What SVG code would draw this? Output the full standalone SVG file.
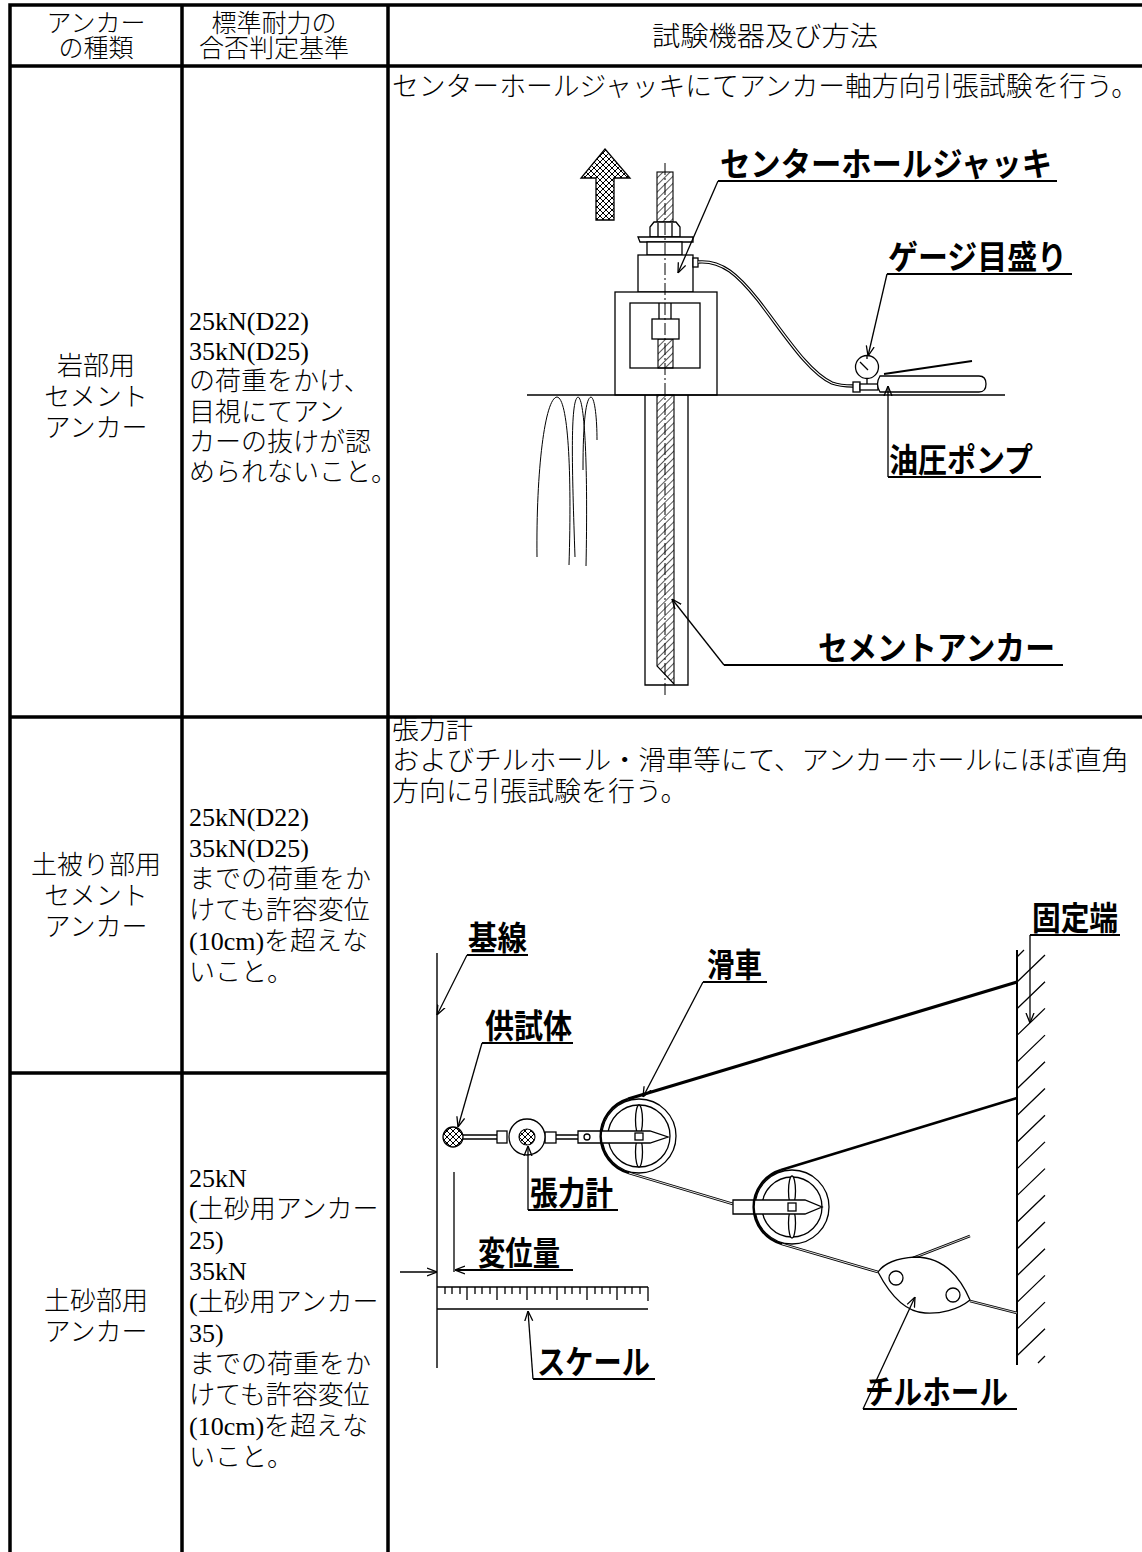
<svg xmlns="http://www.w3.org/2000/svg" width="1142" height="1552" viewBox="0 0 1142 1552">
<style>
.t{font-family:"Liberation Serif","Noto Sans CJK JP",serif;font-size:26px;font-weight:300;fill:#000}
.h{font-size:25px}
.w{font-size:27px}
.c{text-anchor:middle}
.lb{font-family:"Noto Sans CJK JP","Noto Sans",sans-serif;font-weight:bold;font-size:33px;fill:#000}
.ln{fill:none;stroke:#000;stroke-width:1.3}
.ld{fill:none;stroke:#000;stroke-width:1.4}
.ul{fill:none;stroke:#000;stroke-width:1.8}
.sh{fill:#fff;stroke:#000;stroke-width:1.3}
</style>
<defs>
<pattern id="xh" width="6" height="6" patternUnits="userSpaceOnUse"><path d="M0,0 L6,6 M6,0 L0,6" stroke="#000" stroke-width="1"/></pattern>
<pattern id="dh" width="5" height="5" patternUnits="userSpaceOnUse" patternTransform="rotate(45)"><line x1="0" y1="0" x2="0" y2="5" stroke="#000" stroke-width="1.3"/></pattern>
<marker id="v" viewBox="0 0 10 10" refX="10" refY="5" markerWidth="10" markerHeight="10" markerUnits="userSpaceOnUse" orient="auto"><path d="M0,1 L10,5 L0,9" fill="none" stroke="#000" stroke-width="1.3"/></marker>
</defs>
<rect width="1142" height="1552" fill="#fff"/>

<g id="grid" fill="none" stroke="#000" stroke-width="3.5">
<path d="M8.25,5 H1142 M10,5 V1552 M182,5 V1552 M388,5 V1552 M10,66 H1142 M10,717 H1142 M10,1073 H388"/>
</g>

<g id="header">
<text class="t h c" x="96" y="32">アンカー</text>
<text class="t h c" x="96" y="57">の種類</text>
<text class="t h c" x="274" y="32">標準耐力の</text>
<text class="t h c" x="274" y="57">合否判定基準</text>
<text class="t w" x="652" y="46" textLength="226" lengthAdjust="spacingAndGlyphs">試験機器及び方法</text>
</g>

<g id="row1">
<text class="t c" x="96" y="375">岩部用</text>
<text class="t c" x="96" y="406">セメント</text>
<text class="t c" x="96" y="437">アンカー</text>
<text class="t" x="189" y="330">25kN(D22)</text>
<text class="t" x="189" y="360">35kN(D25)</text>
<text class="t" x="189" y="390">の荷重をかけ、</text>
<text class="t" x="189" y="421">目視にてアン</text>
<text class="t" x="189" y="451">カーの抜けが認</text>
<text class="t" x="189" y="481">められないこと。</text>
<text class="t w" x="392" y="96" textLength="746" lengthAdjust="spacingAndGlyphs">センターホールジャッキにてアンカー軸方向引張試験を行う。</text>
</g>

<g id="row2">
<text class="t c" x="96" y="874">土被り部用</text>
<text class="t c" x="96" y="905">セメント</text>
<text class="t c" x="96" y="936">アンカー</text>
<text class="t" x="189" y="826">25kN(D22)</text>
<text class="t" x="189" y="857">35kN(D25)</text>
<text class="t" x="189" y="888">までの荷重をか</text>
<text class="t" x="189" y="919">けても許容変位</text>
<text class="t" x="189" y="950">(10cm)を超えな</text>
<text class="t" x="189" y="981">いこと。</text>
<text class="t w" x="392" y="739">張力計</text>
<text class="t w" x="392" y="770" textLength="737" lengthAdjust="spacingAndGlyphs">およびチルホール・滑車等にて、アンカーホールにほぼ直角</text>
<text class="t w" x="392" y="801">方向に引張試験を行う。</text>
</g>

<g id="row3">
<text class="t c" x="96" y="1310">土砂部用</text>
<text class="t c" x="96" y="1341">アンカー</text>
<text class="t" x="189" y="1187">25kN</text>
<text class="t" x="189" y="1218">(土砂用アンカー</text>
<text class="t" x="189" y="1249">25)</text>
<text class="t" x="189" y="1280">35kN</text>
<text class="t" x="189" y="1311">(土砂用アンカー</text>
<text class="t" x="189" y="1342">35)</text>
<text class="t" x="189" y="1373">までの荷重をか</text>
<text class="t" x="189" y="1404">けても許容変位</text>
<text class="t" x="189" y="1435">(10cm)を超えな</text>
<text class="t" x="189" y="1466">いこと。</text>
</g>

<g id="jack-diagram">
<polygon points="605,149 630,178 614,178 614,220 596,220 596,178 581,178" fill="url(#xh)" stroke="#000" stroke-width="1.3"/>
<rect x="657" y="172" width="16" height="50" fill="url(#dh)" stroke="#000" stroke-width="1.1"/>
<path class="sh" d="M650,237 V227 L654,222 H676 L680,227 V237 Z"/>
<path class="ln" d="M658,223 V237 M672,223 V237"/>
<path class="sh" d="M638,237 H693 V242 H640 Z"/>
<rect class="sh" x="647" y="242" width="35" height="13"/>
<rect class="sh" x="638" y="255" width="55" height="37"/>
<rect class="sh" x="693" y="258" width="5" height="9"/>
<rect class="sh" x="615" y="292" width="102" height="103"/>
<rect class="sh" x="630" y="303" width="70" height="65"/>
<path class="ln" d="M659,303 V319 M671,303 V319"/>
<rect x="658" y="339" width="15" height="29" fill="url(#dh)" stroke="#000" stroke-width="1.1"/>
<rect class="sh" x="652" y="319" width="27" height="20"/>
<path class="ld" d="M527,395 H1005"/>
<path class="ln" d="M645,395 V685 H688 V395"/>
<polygon points="657,395 674,395 674,684 657,666" fill="url(#dh)" stroke="#000" stroke-width="1.1"/>
<path d="M665,163 V698" fill="none" stroke="#000" stroke-width="1" stroke-dasharray="12 3 2 3"/>
<path fill="none" stroke="#000" stroke-width="1" d="M537,557 C536,470 545,398 557,397 C568,398 572,470 569,565 M575,557 C572,470 570,400 578,397 C585,398 588,470 586,566 M583,470 C583,420 586,398 591,397 C595,398 597,420 597,440"/>
<path d="M698,262 C722,260 738,275 758,300 C785,335 808,372 832,383 C840,386 847,386 853,386" fill="none" stroke="#000" stroke-width="3.4"/>
<path d="M698,262 C722,260 738,275 758,300 C785,335 808,372 832,383 C840,386 847,386 853,386" fill="none" stroke="#fff" stroke-width="1.2"/>
<circle class="sh" cx="867" cy="367" r="11.5"/>
<path class="ln" d="M860,362 L868,370 M867,356 V359 M867,378.5 V384"/>
<rect class="sh" x="853" y="382" width="7" height="10"/>
<rect class="sh" x="860" y="384" width="18" height="6"/>
<path class="sh" d="M880,376 H979 Q986,376 986,384 Q986,392 979,392 H880 Q875,384 880,376 Z"/>
<path d="M884,374 L972,361" fill="none" stroke="#000" stroke-width="2"/>
</g>

<g id="pull-diagram">
<path class="ld" d="M437,953 V1368"/>
<path class="ln" d="M454,1172 V1272"/>
<path class="ln" d="M437,1287 H648 M437,1309 H648 M648,1287 V1301"/>
<path class="ln" d="M445,1287v7M452,1287v7M460,1287v7M475,1287v7M482,1287v7M490,1287v7M505,1287v7M512,1287v7M520,1287v7M535,1287v7M542,1287v7M550,1287v7M565,1287v7M572,1287v7M580,1287v7M595,1287v7M602,1287v7M610,1287v7M625,1287v7M632,1287v7M640,1287v7M467,1287v13M497,1287v13M527,1287v13M557,1287v13M587,1287v13M617,1287v13"/>
<path d="M1017,950 V1365" fill="none" stroke="#000" stroke-width="2"/>
<path class="ln" d="M1017,957 L1024,950 M1017,982 L1045,955 M1017,1008.7 L1045,981.7 M1017,1035.4 L1045,1008.4 M1017,1062.1 L1045,1035.1 M1017,1088.8 L1045,1061.8 M1017,1115.5 L1045,1088.5 M1017,1142.2 L1045,1115.2 M1017,1168.9 L1045,1141.9 M1017,1195.6 L1045,1168.6 M1017,1222.3 L1045,1195.3 M1017,1249 L1045,1222 M1017,1275.7 L1045,1248.7 M1017,1302.4 L1045,1275.4 M1017,1329.1 L1045,1302.1 M1017,1355.8 L1045,1328.8 M1038,1363 L1045,1356"/>
<path d="M628,1099 L1017,982" fill="none" stroke="#000" stroke-width="3.2"/>
<path d="M781,1170 L1017,1098" fill="none" stroke="#000" stroke-width="2.6"/>
<path d="M970,1301 L1017,1313" fill="none" stroke="#000" stroke-width="2.6"/>
<path d="M970,1301 L1017,1313" fill="none" stroke="#fff" stroke-width="0.8"/>
<path d="M629,1173 L733,1204 M782,1244 L878,1272" fill="none" stroke="#000" stroke-width="2.8"/>
<path d="M629,1173 L733,1204 M782,1244 L878,1272" fill="none" stroke="#fff" stroke-width="0.9"/>
<circle cx="453" cy="1137" r="10" fill="url(#xh)" stroke="#000" stroke-width="1.3"/>
<path class="ln" d="M463,1135 H497 M463,1139 H497 M556,1135 H578 M556,1139 H578"/>
<rect class="sh" x="497" y="1131" width="10" height="12"/>
<rect class="sh" x="545" y="1132" width="11" height="11"/>
<circle class="sh" cx="527" cy="1137" r="18"/>
<circle cx="527" cy="1137" r="8" fill="url(#xh)" stroke="#000" stroke-width="1.1"/>
<circle class="sh" cx="639" cy="1136" r="37"/>
<circle class="sh" cx="639" cy="1136" r="31"/>
<ellipse class="sh" cx="639" cy="1120" rx="3.5" ry="15"/>
<ellipse class="sh" cx="639" cy="1152" rx="3.5" ry="15"/>
<path class="sh" d="M578,1131 H650 L668,1137 L650,1143 H578 Z"/>
<circle class="sh" cx="587" cy="1137" r="3"/>
<rect class="sh" x="635" y="1133" width="8" height="7"/>
<path d="M628,1099 A38.5,38.5 0 0 0 629,1173" fill="none" stroke="#000" stroke-width="2.4"/>
<circle class="sh" cx="792" cy="1207" r="37"/>
<circle class="sh" cx="792" cy="1207" r="30"/>
<ellipse class="sh" cx="792" cy="1191" rx="3.5" ry="15"/>
<ellipse class="sh" cx="792" cy="1223" rx="3.5" ry="15"/>
<path class="sh" d="M733,1200 H805 L822,1207 L805,1214 H733 Z"/>
<rect class="sh" x="788" y="1203" width="8" height="8"/>
<path d="M781,1170 A38.5,38.5 0 0 0 782,1244" fill="none" stroke="#000" stroke-width="2.4"/>
<path d="M913,1258 L970,1236" fill="none" stroke="#000" stroke-width="2.6"/>
<path d="M913,1258 L970,1236" fill="none" stroke="#fff" stroke-width="0.8"/>
<path class="sh" stroke-width="1.6" d="M878,1272 C885,1262 900,1258 915,1257 C940,1257 958,1272 970,1300 C958,1310 940,1314 925,1313 C905,1312 890,1295 878,1272 Z"/>
<circle class="sh" cx="896" cy="1278" r="7"/>
<circle class="sh" cx="953" cy="1295" r="7"/>
</g>

<g id="leaders">
<path class="ul" d="M1057,181 H718"/><path class="ln" d="M718,181 L678,273" marker-end="url(#v)"/>
<path class="ul" d="M1072,274 H887"/><path class="ln" d="M887,274 L868,356" marker-end="url(#v)"/>
<path class="ul" d="M1041,477 H888"/><path class="ln" d="M888,477 V386" marker-end="url(#v)"/>
<path class="ul" d="M1063,665 H724"/><path class="ln" d="M724,665 L672,599" marker-end="url(#v)"/>
<path class="ul" d="M528,955 H467"/><path class="ln" d="M467,955 L437,1015" marker-end="url(#v)"/>
<path class="ul" d="M573,1043 H482"/><path class="ln" d="M482,1043 L458,1127" marker-end="url(#v)"/>
<path class="ul" d="M767,982 H703"/><path class="ln" d="M703,982 L643,1097" marker-end="url(#v)"/>
<path class="ul" d="M1120,935 H1030"/><path class="ln" d="M1030,935 V1023" marker-end="url(#v)"/>
<path class="ul" d="M618,1210 H528"/><path class="ln" d="M528,1210 V1146" marker-end="url(#v)"/>
<path class="ul" d="M573,1270 H456"/><path class="ln" d="M470,1270 H455" marker-end="url(#v)"/>
<path class="ln" d="M400,1272 H437" marker-end="url(#v)"/>
<path class="ul" d="M655,1379 H533"/><path class="ln" d="M533,1379 L528,1311" marker-end="url(#v)"/>
<path class="ul" d="M1017,1409 H863"/><path class="ln" d="M863,1409 L915,1297" marker-end="url(#v)"/>
</g>

<g id="labels">
<text class="lb" x="720" y="176" textLength="332" lengthAdjust="spacingAndGlyphs">センターホールジャッキ</text>
<text class="lb" x="888" y="269" textLength="179" lengthAdjust="spacingAndGlyphs">ゲージ目盛り</text>
<text class="lb" x="889" y="472" textLength="144" lengthAdjust="spacingAndGlyphs">油圧ポンプ</text>
<text class="lb" x="818" y="660" textLength="237" lengthAdjust="spacingAndGlyphs">セメントアンカー</text>
<text class="lb" x="468" y="950" textLength="59" lengthAdjust="spacingAndGlyphs">基線</text>
<text class="lb" x="707" y="977" textLength="55" lengthAdjust="spacingAndGlyphs">滑車</text>
<text class="lb" x="485" y="1038" textLength="87" lengthAdjust="spacingAndGlyphs">供試体</text>
<text class="lb" x="1032" y="930" textLength="86" lengthAdjust="spacingAndGlyphs">固定端</text>
<text class="lb" x="530" y="1205" textLength="83" lengthAdjust="spacingAndGlyphs">張力計</text>
<text class="lb" x="478" y="1265" textLength="82" lengthAdjust="spacingAndGlyphs">変位量</text>
<text class="lb" x="537" y="1374" textLength="113" lengthAdjust="spacingAndGlyphs">スケール</text>
<text class="lb" x="865" y="1404" textLength="143" lengthAdjust="spacingAndGlyphs">チルホール</text>
</g>
</svg>
